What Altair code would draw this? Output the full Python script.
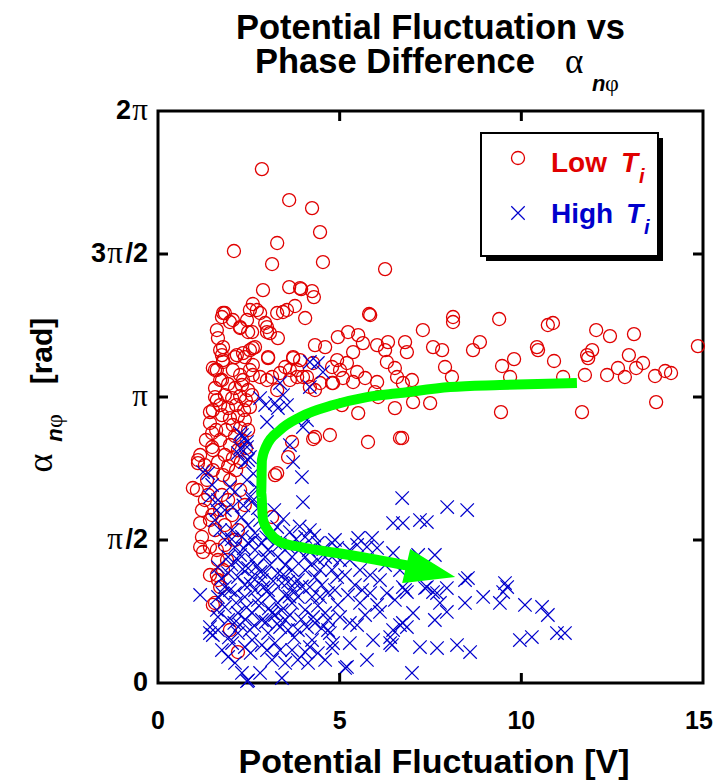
import math
import altair as alt
import pandas as pd

PI = math.pi

# ---------------- data (x: potential fluctuation [V], y: alpha [rad]) ----------------
low_ti = [
    (2.86, 5.645), (3.61, 5.305), (4.24, 5.217), (4.46, 4.953), (3.28, 4.833), (2.09, 4.745),
    (3.14, 4.602), (4.54, 4.624), (6.25, 4.547), (2.89, 4.316), (3.61, 4.349), (3.94, 4.327),
    (4.24, 4.305), (4.29, 4.239),
    (2.61, 4.163), (2.81, 4.064), (2.53, 4.097), (1.84, 4.064), (1.76, 4.020), (1.62, 3.877),
    (1.98, 3.965), (2.26, 3.910), (2.45, 3.987), (2.59, 3.855), (3.00, 3.855), (2.95, 3.954),
    (3.28, 4.064), (3.44, 4.075), (3.30, 3.789), (3.08, 3.844), (3.77, 4.141), (4.05, 4.009),
    (5.81, 4.053), (1.65, 3.789), (1.79, 3.690), (1.76, 3.602), (1.79, 3.526), (1.57, 3.438),
    (1.76, 3.328), (2.17, 3.602), (2.34, 3.624), (2.53, 3.657), (2.67, 3.690), (3.03, 3.580),
    (2.61, 3.493), (2.61, 3.383), (3.00, 3.328), (2.26, 3.383), (3.28, 3.218), (3.50, 3.471),
    (3.72, 3.569), (3.83, 3.438), (3.63, 3.328), (3.99, 3.361), (4.32, 3.712), (4.60, 3.690),
    (4.93, 3.547), (4.95, 3.800), (5.23, 3.855), (5.51, 3.822), (5.64, 3.734), (5.37, 3.635),
    (5.20, 3.515), (5.01, 3.438), (4.79, 3.471), (5.48, 3.416), (5.70, 3.350), (5.37, 3.306),
    (6.03, 3.306), (6.03, 3.712), (6.33, 3.745), (6.25, 3.657), (6.30, 3.526), (6.52, 3.460),
    (6.58, 3.361), (6.80, 3.745), (6.85, 3.635), (7.29, 3.877), (6.99, 3.328), (4.79, 3.295),
    (4.18, 3.251), (5.06, 3.053), (5.51, 2.965), (6.52, 3.020), (6.06, 3.141), (4.73, 2.724),
    (4.27, 2.680), (5.78, 2.647), (6.66, 2.691), (3.58, 2.482), (3.28, 2.306), (1.57, 3.240),
    (1.57, 3.141), (1.43, 2.976), (1.43, 2.856), (1.49, 2.746), (1.10, 2.449), (1.51, 2.559),
    (1.93, 3.284), (2.12, 3.240), (2.31, 3.273), (2.48, 3.218), (1.84, 3.163), (2.04, 3.130),
    (2.26, 3.152), (2.42, 3.108), (2.59, 3.163), (1.71, 3.053), (1.93, 3.020), (2.15, 3.053),
    (2.37, 2.998), (2.53, 3.031), (1.76, 2.943), (1.98, 2.910), (2.20, 2.932), (2.39, 2.889),
    (2.06, 2.834), (2.26, 2.801), (1.87, 2.779), (2.48, 2.779), (2.12, 2.713), (2.31, 2.669),
    (1.71, 2.669), (1.98, 2.614), (2.20, 2.559), (2.42, 2.581), (1.84, 2.504), (2.06, 2.471),
    (2.28, 2.427), (1.93, 2.383), (2.15, 2.339), (1.60, 2.779), (1.49, 2.592), (1.65, 2.427),
    (1.32, 2.669), (1.16, 2.504), (1.79, 2.284),
    (5.84, 4.042), (7.57, 3.690), (7.82, 3.657), (7.90, 3.471), (8.09, 3.361), (5.09, 3.350),
    (4.82, 3.295), (6.74, 3.295), (5.97, 3.196), (7.02, 3.086), (7.49, 3.075), (4.32, 2.702),
    (4.27, 3.515), (4.10, 3.361), (4.46, 3.295), (4.32, 3.218), (8.12, 4.020), (8.12, 3.965),
    (8.86, 3.745), (8.67, 3.657), (9.39, 3.998), (9.47, 3.482), (9.80, 3.558), (9.69, 3.361),
    (9.44, 2.976), (10.43, 3.690), (10.46, 3.657), (10.73, 3.932), (10.87, 3.954), (10.90, 3.537),
    (11.15, 3.361), (11.75, 3.383), (11.67, 2.976), (11.81, 3.602), (11.95, 3.657), (11.84, 3.569),
    (12.06, 3.877), (12.44, 3.811), (12.36, 3.383), (12.66, 3.460), (12.85, 3.361), (12.96, 3.602),
    (13.10, 3.833), (13.16, 3.460), (13.35, 3.515), (13.68, 3.372), (13.96, 3.427), (14.12, 3.405),
    (13.71, 3.086), (14.86, 3.701), (6.72, 2.691),
    (3.22, 2.284), (3.14, 1.823), (3.69, 2.647),
    (1.07, 2.120), (0.96, 2.142), (1.21, 1.900), (1.16, 1.757), (1.21, 1.604), (1.16, 1.494),
    (1.24, 1.439), (1.43, 1.494), (1.65, 1.351), (1.62, 1.186), (1.71, 1.054), (1.57, 0.879),
    (1.98, 0.582), (2.20, 0.340), (1.79, 1.241), (1.90, 1.351), (1.51, 2.339), (1.35, 2.230),
    (1.10, 2.416), (1.62, 1.461), (1.84, 1.516), (1.65, 1.131), (1.51, 0.857), (1.29, 2.394),
    (1.29, 2.010), (1.43, 1.790), (1.57, 1.680), (1.49, 1.845), (1.38, 2.065), (1.76, 2.065),
    (1.71, 1.900), (1.93, 2.010), (2.04, 1.845), (1.84, 1.735), (2.12, 1.571), (1.98, 2.230),
    (2.26, 2.120), (2.39, 1.955), (2.20, 1.680), (1.43, 1.186),
    (3.91, 4.338), (1.79, 4.064), (2.06, 3.987), (2.26, 3.899), (2.48, 3.855), (2.72, 4.097),
    (3.55, 4.097), (3.00, 3.910), (1.71, 3.657), (1.79, 3.547), (1.62, 3.438), (1.51, 3.460),
    (2.12, 3.580), (2.39, 3.580), (2.61, 3.679), (3.03, 3.569), (1.71, 3.328), (2.06, 3.438),
    (2.34, 3.328), (2.53, 3.438), (2.81, 3.361), (3.14, 3.361), (3.36, 3.405), (3.63, 3.438),
    (3.83, 3.361), (3.91, 3.547), (3.72, 3.580), (1.62, 3.108), (1.51, 2.998),
]

high_ti = [
    (4.18, 3.526), (4.40, 3.515), (4.54, 3.416), (4.18, 3.251), (3.36, 3.295), (3.44, 3.163),
    (3.22, 3.075), (2.95, 3.053), (2.81, 3.130), (3.30, 3.020), (3.55, 3.053), (3.00, 2.867),
    (4.10, 2.889), (3.99, 2.812), (3.63, 2.614), (3.72, 2.427), (3.96, 2.262), (2.26, 2.746),
    (2.39, 2.691), (2.26, 2.581), (2.45, 2.592), (2.53, 2.482), (2.39, 2.427), (2.20, 2.526),
    (1.24, 2.317), (1.38, 2.306),
    (3.99, 1.988), (2.31, 2.724), (2.45, 2.647), (2.48, 2.449), (1.43, 2.043), (1.98, 2.153),
    (2.12, 2.098), (2.45, 2.230), (1.84, 1.900), (2.06, 1.933), (1.62, 1.900),
    (6.72, 2.032), (6.47, 1.757), (6.74, 1.757), (7.21, 1.790), (7.40, 1.768), (1.16, 0.967),
    (5.20, 0.176), (3.41, 0.055), (2.45, 0.020), (5.75, 0.253), (5.92, 0.472), (6.39, 0.439),
    (6.47, 0.582), (7.02, 0.769), (6.85, 0.615), (7.21, 0.395), (6.99, 0.110),
    (7.96, 1.933), (6.47, 1.428), (7.62, 1.406), (7.16, 1.406), (4.18, 1.680), (4.87, 1.571),
    (5.51, 1.593), (5.89, 1.593), (6.03, 1.483), (5.75, 1.494), (5.28, 1.351), (6.11, 1.131),
    (6.66, 1.241), (6.80, 1.021), (7.40, 1.054), (7.68, 0.988), (7.95, 1.043), (7.76, 0.879),
    (7.95, 0.780), (7.62, 0.692), (6.66, 0.637), (6.39, 0.505), (6.03, 0.857), (6.30, 0.988),
    (5.84, 0.988), (5.56, 0.879), (5.01, 0.725), (5.28, 0.659), (4.73, 0.549), (4.79, 0.384),
    (5.28, 0.439), (5.15, 0.165), (7.68, 0.384), (8.23, 0.417), (6.44, 0.417), (4.46, 0.945),
    (4.18, 1.054), (4.46, 1.241), (4.93, 1.164), (5.56, 1.241), (4.79, 1.384), (4.27, 0.725),
    (4.10, 0.615), (4.18, 0.395),
    (8.51, 1.900), (8.53, 1.153), (8.45, 1.131), (9.55, 1.098), (9.61, 1.054), (9.50, 0.999),
    (9.41, 0.879), (8.95, 0.945), (8.45, 0.879), (7.57, 0.999), (7.35, 1.043), (6.85, 0.999),
    (6.74, 1.054), (6.74, 0.659), (10.10, 0.857), (10.57, 0.835), (10.73, 0.747), (9.96, 0.472),
    (10.29, 0.505), (10.98, 0.549), (11.20, 0.549), (8.59, 0.340),
    (1.65, 0.582), (1.43, 0.549), (2.20, 0.549), (2.39, 0.395), (2.12, 0.220), (2.31, 0.110),
    (2.48, 0.030), (2.81, 0.110), (3.22, 0.439), (3.58, 0.582), (3.36, 0.615), (3.85, 0.582),
    (4.24, 0.472), (4.05, 0.340), (4.40, 0.329), (4.32, 0.659), (4.68, 0.582), (4.60, 0.769),
    (4.68, 0.988), (4.79, 1.241), (4.60, 1.384), (4.40, 1.538), (4.05, 1.604), (3.50, 0.692),
    (3.03, 0.549), (2.59, 0.472), (2.04, 0.439), (1.76, 0.362), (1.93, 0.286), (1.65, 0.725),
    (1.84, 0.835), (1.93, 0.692), (2.20, 0.769), (2.59, 0.769), (2.86, 0.692), (3.14, 0.769),
    (3.30, 0.879), (3.69, 0.879), (3.85, 0.945), (4.05, 0.802), (4.24, 0.945), (3.77, 1.098),
    (3.41, 1.098), (3.03, 1.021), (2.67, 1.021), (2.39, 0.945), (2.12, 0.988), (1.84, 1.054),
    (1.93, 1.208), (2.20, 1.164), (2.59, 1.164), (2.95, 1.208), (3.30, 1.208), (3.69, 1.241),
    (4.05, 1.241), (4.32, 1.164), (4.40, 1.351), (4.05, 1.384), (3.69, 1.384), (3.30, 1.384),
    (2.95, 1.384), (2.59, 1.351), (2.20, 1.351), (1.93, 1.384), (2.12, 1.494), (2.48, 1.538),
    (2.86, 1.538), (3.22, 1.538), (3.58, 1.494), (3.96, 1.494), (1.84, 1.571), (2.31, 1.604),
    (2.67, 1.647), (3.14, 1.647), (1.65, 1.274), (1.65, 0.945), (4.79, 1.538), (4.68, 0.692),
    (4.82, 0.439), (4.60, 0.253), (4.13, 0.220), (3.50, 0.220), (3.14, 0.253), (3.69, 0.362),
    (5.01, 1.351), (5.15, 1.186), (5.42, 1.076), (5.23, 0.967), (4.95, 0.857), (5.62, 1.021),
    (5.84, 1.186), (6.25, 1.296), (6.52, 0.912), (6.11, 0.780), (5.48, 0.637), (5.70, 0.747),
    (4.51, 1.076), (4.87, 1.021), (3.28, 1.713), (3.63, 1.658), (4.93, 1.483), (5.28, 1.461),
    (5.48, 1.516), (1.43, 0.615), (1.51, 0.527), (1.62, 0.802), (1.57, 1.790), (1.71, 1.680),
    (1.49, 2.175), (1.65, 2.010),
    (1.98, 1.021), (2.39, 1.076), (2.75, 0.912), (3.08, 0.967), (3.50, 0.967), (2.86, 1.131),
    (2.48, 1.263), (3.08, 1.296), (3.50, 1.296), (3.85, 1.131), (2.67, 1.461), (3.03, 1.461),
    (2.26, 1.406), (2.04, 1.680), (2.48, 1.735), (2.81, 1.790), (2.53, 0.582), (2.86, 0.417),
    (3.36, 0.362), (3.85, 0.253), (2.26, 0.637), (3.22, 0.747), (3.63, 0.747),
    (2.02, 1.30), (2.33, 1.25), (2.71, 1.28), (2.90, 1.05), (3.17, 1.12), (3.45, 1.19),
    (3.72, 1.02), (3.96, 1.06), (4.21, 1.30), (4.55, 1.47), (2.15, 0.88), (2.44, 0.83),
    (2.78, 0.85), (3.05, 0.82), (3.40, 0.80), (3.62, 0.95), (3.94, 0.70), (4.40, 0.85),
    (2.03, 1.58), (2.36, 1.48), (2.60, 1.57), (2.98, 1.60), (3.35, 1.52), (3.80, 1.58),
    (4.15, 1.46), (1.75, 1.15), (1.78, 0.98), (2.55, 1.09), (2.82, 1.22), (3.58, 1.11),
    (3.28, 0.65), (2.97, 0.67), (2.65, 0.63), (2.40, 0.70), (2.10, 0.66), (4.50, 0.60),
    (3.75, 0.50), (2.55, 0.33), (3.00, 0.36), (1.95, 0.50), (4.30, 1.62), (3.90, 1.72),
    (3.45, 1.80), (2.75, 1.92), (3.20, 1.90), (2.30, 1.82), (2.60, 2.00), (2.55, 2.05),
    (2.35, 1.95), (2.62, 2.30), (2.70, 2.15),
]

# green guide arrow (hand-drawn annotation in data units)
arrow_x = [11.53, 9.41, 8.04, 6.66, 5.75, 4.82, 3.91, 3.36, 2.97, 2.86, 2.84, 2.89, 3.08, 3.36, 3.91, 5.28, 6.94]
arrow_y = [3.295, 3.273, 3.251, 3.185, 3.141, 3.053, 2.921, 2.779, 2.592, 2.449, 2.087, 1.790, 1.647, 1.549, 1.494, 1.406, 1.285]
head_x = [6.72, 6.94, 8.18]
head_top = [1.098, 1.472, 1.164]
head_bot = [1.098, 1.108, 1.164]

x_ticks = [0, 5, 10]
x_tick_labels = ["0", "5", "10"]
x_last_tick = [15]
x_last_label = ["15"]
y_ticks = [0, PI / 2, PI, 3 * PI / 2, 2 * PI]
y_tick_pre = ["0", "", "", "3", "2"]
y_tick_pi = ["", "\u03c0", "\u03c0", "\u03c0", "\u03c0"]
y_tick_suf = ["", "/2", "", "/2", ""]

RED = "#e00000"
BLUE = "#0000cc"
GREEN = "#00ff00"
SANS = "Liberation Sans"
SERIF = "Liberation Serif"
W, H = 545, 572

xs = alt.Scale(domain=[0, 15], nice=False, zero=False)
ys = alt.Scale(domain=[0, 2 * PI], nice=False, zero=False)

low_df = pd.DataFrame(low_ti, columns=["x", "y"])
high_df = pd.DataFrame(high_ti, columns=["x", "y"])
arrow_df = pd.DataFrame({"x": arrow_x, "y": arrow_y, "i": list(range(len(arrow_x)))})
head_df = pd.DataFrame({"x": head_x, "y": head_top, "y2": head_bot})
one = pd.DataFrame({"d": [0]})

XSHAPE = "M-1,-1L1,1M-1,1L1,-1"

low_layer = alt.Chart(low_df).mark_point(
    shape="circle", filled=False, color=RED, size=170, strokeWidth=1.3, opacity=1
).encode(
    x=alt.X("x:Q", scale=xs, axis=None),
    y=alt.Y("y:Q", scale=ys, axis=alt.Axis(
        values=[PI / 2, PI, 3 * PI / 2], labels=False, ticks=False, tickSize=0, domain=False,
        grid=True, gridDash=[2, 3], gridColor="#666666", gridWidth=1.5, title=None)),
)

high_layer = alt.Chart(high_df).mark_point(
    shape=XSHAPE, filled=False, color=BLUE, size=180, strokeWidth=1.2, opacity=1
).encode(
    x=alt.X("x:Q", scale=xs, axis=None),
    y=alt.Y("y:Q", scale=ys, axis=None),
)

arrow_line = alt.Chart(arrow_df).mark_line(
    color=GREEN, strokeWidth=10, strokeCap="butt", strokeJoin="round", interpolate="monotone"
).encode(
    x=alt.X("x:Q", scale=xs, axis=None),
    y=alt.Y("y:Q", scale=ys, axis=None),
    order="i:Q",
)

arrow_head = alt.Chart(head_df).mark_area(color=GREEN, opacity=1).encode(
    x=alt.X("x:Q", scale=xs, axis=None),
    y=alt.Y("y:Q", scale=ys, axis=None),
    y2="y2:Q",
)

# inward tick marks on all four sides
xt = pd.DataFrame({"v": [5, 10]})
yt = pd.DataFrame({"v": [PI / 2, PI, 3 * PI / 2]})
TL = 10
tick_layers = [
    alt.Chart(xt).mark_rule(color="black", strokeWidth=3).encode(
        x=alt.X("v:Q", scale=xs, axis=None), y=alt.value(H), y2=alt.value(H - TL)),
    alt.Chart(xt).mark_rule(color="black", strokeWidth=3).encode(
        x=alt.X("v:Q", scale=xs, axis=None), y=alt.value(0), y2=alt.value(TL)),
    alt.Chart(yt).mark_rule(color="black", strokeWidth=3).encode(
        y=alt.Y("v:Q", scale=ys, axis=None), x=alt.value(0), x2=alt.value(TL)),
    alt.Chart(yt).mark_rule(color="black", strokeWidth=3).encode(
        y=alt.Y("v:Q", scale=ys, axis=None), x=alt.value(W), x2=alt.value(W - TL)),
]

# x tick labels (the last one nudged left so it stays inside the page)
xlab_layer = alt.Chart(pd.DataFrame({"v": x_ticks, "t": x_tick_labels})).mark_text(
    font=SANS, fontSize=25, fontWeight="bold", color="black", align="center", baseline="top"
).encode(x=alt.X("v:Q", scale=xs, axis=None), y=alt.value(H + 26), text="t:N")
xlab_last = alt.Chart(pd.DataFrame({"v": x_last_tick, "t": x_last_label})).mark_text(
    font=SANS, fontSize=25, fontWeight="bold", color="black", align="center", baseline="top", dx=-4
).encode(x=alt.X("v:Q", scale=xs, axis=None), y=alt.value(H + 26), text="t:N")


def txt(text, x, y, size, color="black", font=SANS, weight="bold", style="normal",
        align="left", angle=0, baseline="alphabetic"):
    return alt.Chart(one).mark_text(
        text=text, font=font, fontSize=size, fontWeight=weight, fontStyle=style,
        color=color, align=align, baseline=baseline, angle=angle,
    ).encode(x=alt.value(x), y=alt.value(y))


# y tick labels: digits in sans bold, pi in serif
ylab_layers = []
W_PI, W_SUF = 17, 25
for v, pre, pi_s, suf in zip(y_ticks, y_tick_pre, y_tick_pi, y_tick_suf):
    d = pd.DataFrame({"v": [v]})
    right = -10
    parts = []
    if suf:
        parts.append((suf, right, SANS, "bold", 27))
        right -= W_SUF
    if pi_s:
        parts.append((pi_s, right, SERIF, "normal", 31))
        right -= W_PI
    if pre:
        parts.append((pre, right, SANS, "bold", 27))
    for t, rx, f, wgt, fs in parts:
        ylab_layers.append(
            alt.Chart(d).mark_text(text=t, font=f, fontWeight=wgt, fontSize=fs, color="black",
                                   align="right", baseline="middle").encode(
                y=alt.Y("v:Q", scale=ys, axis=None), x=alt.value(rx))
        )

# titles
title_layers = [
    txt("Potential Fluctuation vs", W / 2, -72, 34.5, align="center"),
    txt("Phase Difference", 97, -38, 34.5),
    txt("\u03b1", 407, -38, 35, font=SERIF, weight="normal"),
    txt("n", 434, -20, 22, style="italic"),
    txt("\u03c6", 447, -20, 24, font=SERIF, weight="normal"),
    txt("Potential Fluctuation [V]", 276, 662, 34, align="center"),
    # y-axis title, rotated
    txt("[rad]", -106, 240, 30, align="center", angle=270),
    txt("\u03b1", -106, 352, 36, font=SERIF, weight="normal", align="center", angle=270),
    txt("n", -96, 324, 22, style="italic", align="center", angle=270),
    txt("\u03c6", -96, 310, 24, font=SERIF, weight="normal", align="center", angle=270),
]

# legend box with drop shadow
LX0, LY0, LX1, LY1 = 323, 22, 500, 145
legend_layers = [
    alt.Chart(one).mark_rect(color="black").encode(
        x=alt.value(LX0 + 5), x2=alt.value(LX1 + 5), y=alt.value(LY0 + 5), y2=alt.value(LY1 + 5)),
    alt.Chart(one).mark_rect(fill="white", stroke="black", strokeWidth=2).encode(
        x=alt.value(LX0), x2=alt.value(LX1), y=alt.value(LY0), y2=alt.value(LY1)),
    alt.Chart(one).mark_point(shape="circle", filled=False, color=RED, size=170, strokeWidth=1.3,
                              opacity=1).encode(x=alt.value(360), y=alt.value(47)),
    alt.Chart(one).mark_point(shape=XSHAPE, filled=False, color=BLUE, size=180, strokeWidth=1.2,
                              opacity=1).encode(x=alt.value(360), y=alt.value(102)),
    txt("Low", 393, 61, 28, color=RED),
    txt("T", 463, 61, 28, color=RED, style="italic"),
    txt("i", 481, 72, 20, color=RED, style="italic"),
    txt("High", 393, 112, 28, color=BLUE),
    txt("T", 468, 112, 28, color=BLUE, style="italic"),
    txt("i", 486, 123, 20, color=BLUE, style="italic"),
]

chart = alt.layer(
    low_layer, high_layer, arrow_line, arrow_head, *tick_layers, xlab_layer, xlab_last,
    *ylab_layers, *title_layers, *legend_layers
).properties(
    width=W, height=H,
    autosize=alt.AutoSizeParams(type="none"),
    padding={"left": 150, "top": 103, "right": 10, "bottom": 100},
    background="white",
).configure_view(
    stroke="black", strokeWidth=3
)

chart.save("out.html", embed_options={"renderer": "svg", "actions": False})
